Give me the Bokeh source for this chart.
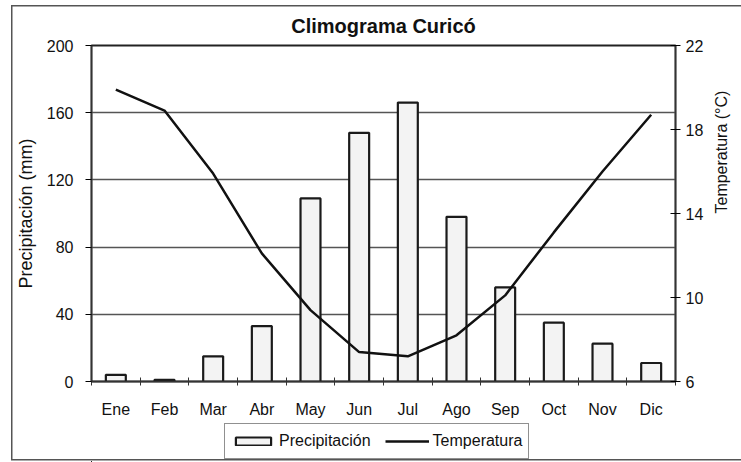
import math
from bokeh.plotting import figure
from bokeh.layouts import column
from bokeh.models import (Range1d, LinearAxis, FixedTicker, Legend, LegendItem,
                          ColumnDataSource)
from bokeh.embed import file_html
from bokeh.resources import INLINE

months = ["Ene", "Feb", "Mar", "Abr", "May", "Jun", "Jul", "Ago", "Sep", "Oct", "Nov", "Dic"]
precip = [4, 1, 15, 33, 109, 148, 166, 98, 56, 35, 22.5, 11]
temp = [19.9, 18.9, 15.9, 12.1, 9.4, 7.4, 7.2, 8.2, 10.1, 13.1, 16.0, 18.7]
precip_ticks = [0, 40, 80, 120, 160, 200]
temp_ticks = [6, 10, 14, 18, 22]

FONT = "Liberation Sans"
BAR_FILL = "#f3f3f3"
INK = "#1a1a1a"

xc = [i + 0.5 for i in range(len(months))]
src = ColumnDataSource(dict(x=xc, p=precip, t=temp, m=months))

W, H, HL = 741, 420, 42
p = figure(width=W, height=H, output_backend="svg", toolbar_location=None,
           x_range=Range1d(0, len(months)), y_range=Range1d(0, 200),
           min_border_left=91, min_border_right=W - 682, min_border_top=45,
           min_border_bottom=H - 383, title="Climograma Curicó")
p.extra_y_ranges = {"temp": Range1d(6, 22)}
p.border_fill_color = None

p.title.align = "center"
p.title.text_font = FONT
p.title.text_font_size = "20px"
p.title.text_font_style = "bold"
p.title.text_color = "#111111"
p.title.standoff = 18

p.outline_line_color = "#222222"
p.outline_line_width = 1.8
p.background_fill_color = "white"

bars = p.vbar(x="x", top="p", width=0.41, bottom=0, source=src,
              fill_color=BAR_FILL, line_color=INK, line_width=2.2)
line = p.line(x="x", y="t", source=src, y_range_name="temp",
              line_color="#111111", line_width=2.5)

# x axis
xa = p.xaxis[0]
xa.ticker = FixedTicker(ticks=xc, minor_ticks=list(range(len(months) + 1)))
xa.major_label_overrides = {v: m for v, m in zip(xc, months)}
xa.major_tick_line_color = None
xa.minor_tick_in = 4
xa.minor_tick_out = 4
xa.minor_tick_line_color = "#333333"
xa.axis_line_color = "#333333"
xa.axis_line_width = 1.5
xa.major_label_text_font = FONT
xa.major_label_text_font_size = "16px"
xa.major_label_text_color = "#111111"
xa.major_label_standoff = 13

# left axis
ya = p.yaxis[0]
ya.ticker = FixedTicker(ticks=precip_ticks)
ya.minor_tick_line_color = None
ya.major_tick_in = 0
ya.major_tick_out = 6
ya.axis_line_color = "#333333"
ya.axis_line_width = 1.5
ya.major_label_text_font = FONT
ya.major_label_text_font_size = "16px"
ya.major_label_text_color = "#111111"
ya.major_label_standoff = 12
ya.axis_label = "Precipitación (mm)"
ya.axis_label_text_font = FONT
ya.axis_label_text_font_size = "18px"
ya.axis_label_text_font_style = "normal"
ya.axis_label_text_color = "#111111"
ya.axis_label_standoff = 8

# right axis
ra = LinearAxis(y_range_name="temp", ticker=FixedTicker(ticks=temp_ticks))
ra.minor_tick_line_color = None
ra.major_tick_in = 5
ra.major_tick_out = 5
ra.axis_line_color = "#333333"
ra.axis_line_width = 1.5
ra.major_label_text_font = FONT
ra.major_label_text_font_size = "16px"
ra.major_label_text_color = "#111111"
ra.major_label_standoff = 5
ra.axis_label = "Temperatura (°C)"
ra.axis_label_text_font = FONT
ra.axis_label_text_font_size = "16px"
ra.axis_label_text_font_style = "normal"
ra.axis_label_text_color = "#111111"
ra.axis_label_text_align = "center"
ra.axis_label_standoff = 15
if "axis_label_orientation" in ra.properties():
    ra.axis_label_orientation = math.pi / 2
p.add_layout(ra, "right")

p.xgrid.grid_line_color = None
p.ygrid.ticker = FixedTicker(ticks=precip_ticks)
p.ygrid.grid_line_color = "#555555"
p.ygrid.grid_line_width = 1.4

# legend strip below the chart (frame aligned with the chart's frame);
# its renderers only serve as legend proxies, their data lie outside its ranges
lf = figure(width=W, height=HL, output_backend="svg", toolbar_location=None,
            x_range=Range1d(100, 101), y_range=Range1d(500, 501),
            x_axis_location=None, y_axis_location=None,
            min_border_left=0, min_border_right=0, min_border_top=0, min_border_bottom=0)
lf.border_fill_color = None
lf.background_fill_color = None
lf.outline_line_color = None
lf.xgrid.grid_line_color = None
lf.ygrid.grid_line_color = None
lb = lf.vbar(x="x", top="p", width=0.41, source=src,
             fill_color=BAR_FILL, line_color=INK, line_width=2.2)
ll = lf.line(x="x", y="t", source=src, line_color="#111111", line_width=2.5)
legend = Legend(items=[LegendItem(label="Precipitación", renderers=[lb]),
                       LegendItem(label="Temperatura", renderers=[ll])],
                orientation="horizontal", location=(224 - 91, 3),
                glyph_width=44, glyph_height=10, spacing=14, padding=6,
                label_height=22, label_standoff=4, margin=0,
                label_text_font=FONT, label_text_font_size="16px",
                label_text_color="#111111",
                border_line_color="#222222", border_line_width=1.5,
                background_fill_color="white")
lf.add_layout(legend, "center")

border_css = {
    "background-color": "white",
    "background-image": ("linear-gradient(#555555,#555555), "
                         "linear-gradient(#555555,#555555), "
                         "linear-gradient(#555555,#555555)"),
    "background-size": "1.5px 455px, 740px 1.5px, 740px 1.5px",
    "background-position": "11px 5px, 11px 5px, 11px 459px",
    "background-repeat": "no-repeat",
}
layout = column(p, lf, spacing=0, styles=border_css)

open("out.html", "w").write(file_html(layout, INLINE))
